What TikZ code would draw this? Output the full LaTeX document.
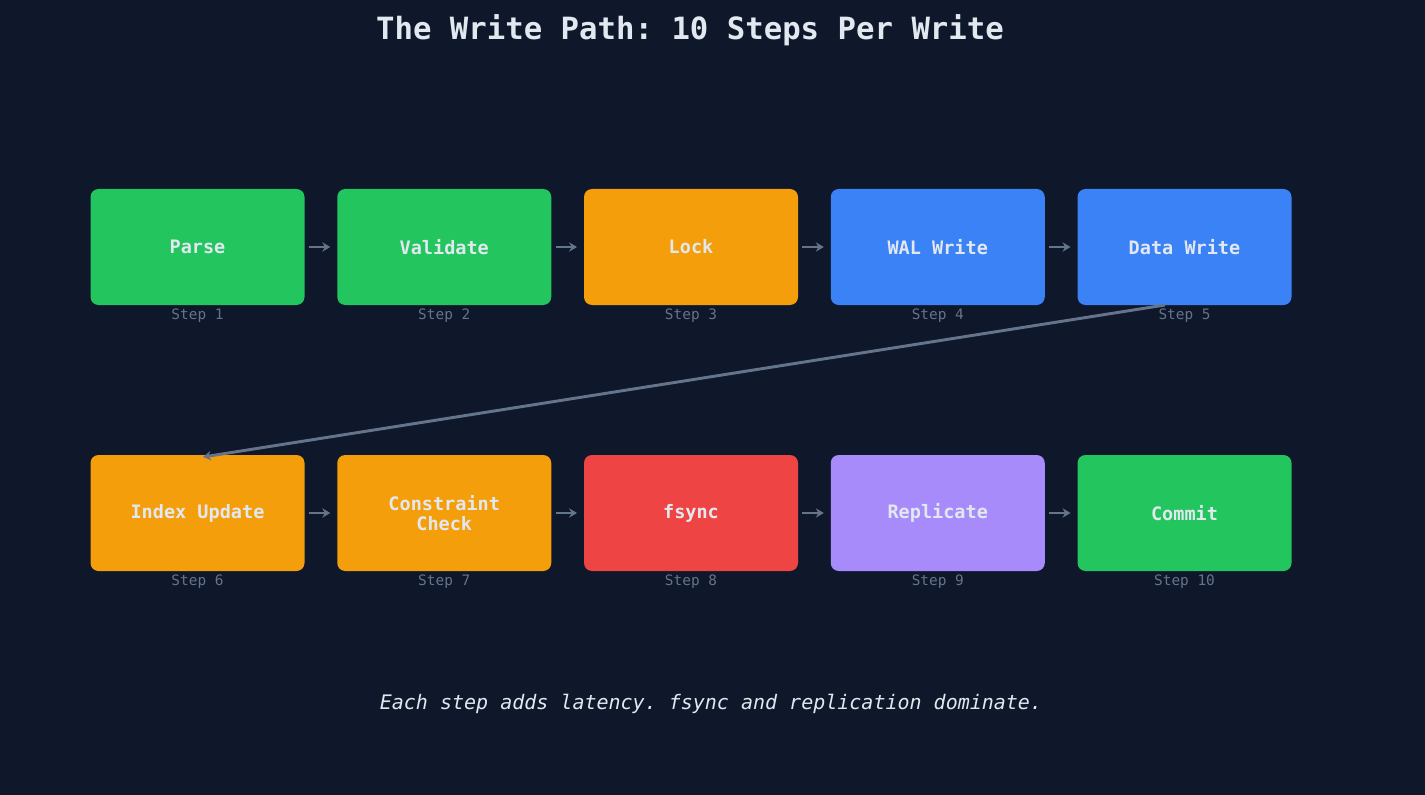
\documentclass[tikz,border=0pt]{standalone}
\usepackage{fontspec}
\setmonofont{DejaVu Sans Mono}
\usetikzlibrary{arrows.meta}
\definecolor{bg}{HTML}{0F172A}
\definecolor{txt}{HTML}{E2E8F0}
\definecolor{gr}{HTML}{64748B}
\definecolor{cg}{HTML}{22C55E}
\definecolor{co}{HTML}{F59E0B}
\definecolor{cb}{HTML}{3B82F6}
\definecolor{cr}{HTML}{EF4444}
\definecolor{cp}{HTML}{A78BFA}
\begin{document}
\begin{tikzpicture}[x=0.75pt,y=-0.75pt,
  box/.style={rounded corners=6pt,minimum width=160.5pt,minimum height=87pt,inner sep=0pt,align=center,text=txt,font=\ttfamily\bfseries\fontsize{13.9}{15}\selectfont},
  steplbl/.style={text=gr,font=\ttfamily\fontsize{10.8}{12}\selectfont},
  arr/.style={draw=gr,line width=2.2pt,-{Stealth[length=6pt,width=7pt]}}]
\fill[bg] (0,0) rectangle (1425,795);
\useasboundingbox (0,0) rectangle (1425,795);
\node[text=txt,font=\ttfamily\bfseries\fontsize{23}{26}\selectfont] (title) at (690,30) {The Write Path: 10 Steps Per Write};
\foreach \i/\c/\t in {1/cg/Parse,2/cg/Validate,3/co/Lock,4/cb/WAL Write,5/cb/Data Write}{
  \node[box,fill=\c] (b\i) at ({197.5+246.75*(\i-1)},247) {\t};
  \node[steplbl] (s\i) at ({197.5+246.75*(\i-1)},316) {Step \i};
}
\foreach \i/\c/\t in {6/co/Index Update,7/co/Constraint\\Check,8/cr/fsync,9/cp/Replicate,10/cg/Commit}{
  \node[box,fill=\c] (b\i) at ({197.5+246.75*(\i-6)},513) {\t};
  \node[steplbl] (s\i) at ({197.5+246.75*(\i-6)},582) {Step \i};
}
\foreach \a/\b in {1/2,2/3,3/4,4/5,6/7,7/8,8/9,9/10}{
  \draw[arr,shorten <=3pt,shorten >=5pt] (b\a.east) -- (b\b.west);
}
\coordinate (d1) at (1165,305);
\coordinate (d2) at (203,457);
\draw[arr] (d1) -- (d2);
\node[text=txt,font=\ttfamily\itshape\fontsize{15}{18}\selectfont] (sub) at (711,704) {Each step adds latency. fsync and replication dominate.};
\end{tikzpicture}
\end{document}
